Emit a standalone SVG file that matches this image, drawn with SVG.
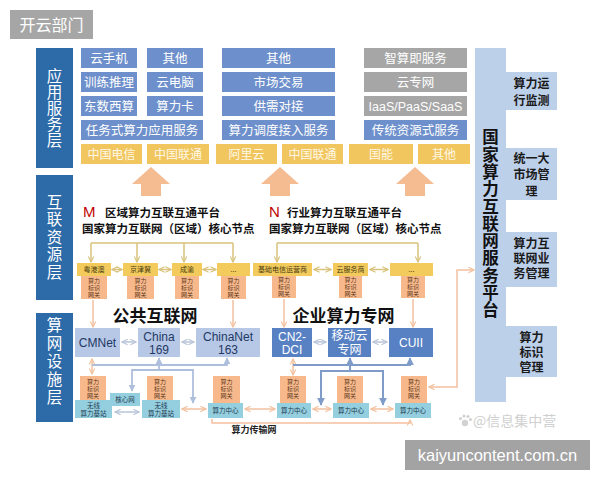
<svg xmlns="http://www.w3.org/2000/svg" width="600" height="480" viewBox="0 0 600 480">
<defs>
<style>
.cjk{font-family:"Noto Sans CJK SC","Noto Sans",sans-serif}
.lat{font-family:"Liberation Sans",Arial,sans-serif}
.lbl{fill:#2d6aa8}
.lt{fill:#fff;font-size:15.5px;text-anchor:middle;writing-mode:vertical-rl}
.ab{fill:#6d8fcb}
.gb{fill:#a6a6a6}
.yb{fill:#f1c65e}
.at{fill:#fff;font-size:12.5px;text-anchor:middle}
.yt{fill:#fff8e6;font-size:12px;text-anchor:middle}
.hd{fill:#f2cb5c}
.ht{fill:#4a3a10;font-size:7px;text-anchor:middle}
.gw{fill:#f7b98c}
.gt{fill:#5a3518;font-size:6px;text-anchor:middle}
.nb{fill:#b6c8e6}
.nt{fill:#1f3864;font-size:12px;text-anchor:middle}
.eb{fill:#5781c3}
.et{fill:#fff;font-size:12px;text-anchor:middle}
.cb{fill:#94cfdf}
.ct{fill:#1f3a50;font-size:6.5px;text-anchor:middle}
.rp{fill:#bdd0ea}
.rt{fill:#1a1a1a;font-size:12px;font-weight:700;text-anchor:middle}
.big{fill:#f5bb91}
.tan{fill:none;stroke:#d8c27c;stroke-width:1.5}
.pch{fill:none;stroke:#f3c09e;stroke-width:1.5}
.gry{fill:none;stroke:#b9c5d8;stroke-width:1.5}
.lbl2{fill:none;stroke:#aebfdc;stroke-width:1.8}
.stl{fill:none;stroke:#7f9cc9;stroke-width:2}
.ttl{fill:#111;font-size:11.5px;font-weight:700}
</style>
<marker id="mT" viewBox="0 0 10 10" refX="9" refY="5" markerUnits="userSpaceOnUse" markerWidth="7" markerHeight="7" orient="auto-start-reverse"><path d="M1 1L9 5L1 9" fill="none" stroke="#d8c27c" stroke-width="1.6"/></marker>
<marker id="mP" viewBox="0 0 10 10" refX="9" refY="5" markerUnits="userSpaceOnUse" markerWidth="7" markerHeight="7" orient="auto-start-reverse"><path d="M1 1L9 5L1 9" fill="none" stroke="#f3c09e" stroke-width="1.6"/></marker>
<marker id="mG" viewBox="0 0 10 10" refX="9" refY="5" markerUnits="userSpaceOnUse" markerWidth="7" markerHeight="7" orient="auto-start-reverse"><path d="M1 1L9 5L1 9" fill="none" stroke="#b9c5d8" stroke-width="1.6"/></marker>
<marker id="mL" viewBox="0 0 10 10" refX="9" refY="5" markerUnits="userSpaceOnUse" markerWidth="7" markerHeight="7" orient="auto-start-reverse"><path d="M0 0L10 5L0 10z" fill="#aebfdc"/></marker>
<marker id="mS" viewBox="0 0 10 10" refX="9" refY="5" markerUnits="userSpaceOnUse" markerWidth="8" markerHeight="8" orient="auto-start-reverse"><path d="M0 0L10 5L0 10z" fill="#7f9cc9"/></marker>
</defs>
<rect width="600" height="480" fill="#fff"/>

<g id="tag">
<rect x="10" y="10" width="83" height="29" fill="#a6a6a6"/>
<text x="51.5" y="30.5" class="cjk" font-size="16" fill="#fff" text-anchor="middle">开云部门</text>
</g>

<g id="layer-labels" class="cjk">
<rect class="lbl" x="36" y="48" width="37" height="120"/>
<text class="lt" x="54.5" y="108.5" letter-spacing="0.5">应用服务层</text>
<rect class="lbl" x="36" y="175" width="37" height="125"/>
<text class="lt" x="54.5" y="238" letter-spacing="2">互联资源层</text>
<rect class="lbl" x="36" y="313" width="37" height="109"/>
<text class="lt" x="54.5" y="362" letter-spacing="2.5">算网设施层</text>
</g>

<g id="app-layer" class="cjk">
<rect class="ab" x="81" y="48" width="56" height="20"/><text class="at" x="109" y="62.5">云手机</text>
<rect class="ab" x="147" y="48" width="56" height="20"/><text class="at" x="175" y="62.5">其他</text>
<rect class="ab" x="81" y="72" width="56" height="20"/><text class="at" x="109" y="86.5">训练推理</text>
<rect class="ab" x="147" y="72" width="56" height="20"/><text class="at" x="175" y="86.5">云电脑</text>
<rect class="ab" x="81" y="96" width="56" height="20"/><text class="at" x="109" y="110.5">东数西算</text>
<rect class="ab" x="147" y="96" width="56" height="20"/><text class="at" x="175" y="110.5">算力卡</text>
<rect class="ab" x="81" y="120" width="122" height="20"/><text class="at" x="142" y="134.5">任务式算力应用服务</text>
<rect class="yb" x="81" y="144" width="61" height="20"/><text class="yt" x="111.5" y="158.5">中国电信</text>
<rect class="yb" x="147" y="144" width="62" height="20"/><text class="yt" x="178" y="158.5">中国联通</text>

<rect class="ab" x="222" y="48" width="113" height="20"/><text class="at" x="278.5" y="62.5">其他</text>
<rect class="ab" x="222" y="72" width="113" height="20"/><text class="at" x="278.5" y="86.5">市场交易</text>
<rect class="ab" x="222" y="96" width="113" height="20"/><text class="at" x="278.5" y="110.5">供需对接</text>
<rect class="ab" x="222" y="120" width="113" height="20"/><text class="at" x="278.5" y="134.5">算力调度接入服务</text>
<rect class="yb" x="216" y="144" width="61" height="20"/><text class="yt" x="246.5" y="158.5">阿里云</text>
<rect class="yb" x="282" y="144" width="61" height="20"/><text class="yt" x="312.5" y="158.5">中国联通</text>

<rect class="gb" x="364" y="48" width="103" height="20"/><text class="at" x="415.5" y="62.5">智算即服务</text>
<rect class="gb" x="364" y="72" width="103" height="20"/><text class="at" x="415.5" y="86.5">云专网</text>
<rect class="gb" x="364" y="96" width="103" height="20"/><text class="at lat" x="415.5" y="110.5" font-size="13">IaaS/PaaS/SaaS</text>
<rect class="ab" x="364" y="120" width="103" height="20"/><text class="at" x="415.5" y="134.5">传统资源式服务</text>
<rect class="yb" x="349" y="144" width="64" height="20"/><text class="yt" x="381" y="158.5">国能</text>
<rect class="yb" x="418" y="144" width="52" height="20"/><text class="yt" x="444" y="158.5">其他</text>
</g>

<g id="up-arrows">
<polygon class="big" points="151,167 170,184 161,184 161,196 141,196 141,184 132,184"/>
<polygon class="big" points="280,167 299,184 290,184 290,196 270,196 270,184 261,184"/>
<polygon class="big" points="415,167 434,184 425,184 425,196 405,196 405,184 396,184"/>
</g>

<g id="platform-titles" class="cjk">
<text x="83" y="217" class="lat" font-size="15" fill="#c00000">M</text>
<text x="105" y="217" class="ttl">区域算力互联互通平台</text>
<text x="82" y="233" class="ttl">国家算力互联网（区域）核心节点</text>
<text x="269" y="217" class="lat" font-size="15" fill="#c00000">N</text>
<text x="287" y="217" class="ttl">行业算力互联互通平台</text>
<text x="269" y="233" class="ttl">国家算力互联网（区域）核心节点</text>
</g>

<g id="connectors">
<path class="tan" d="M91 243H233"/>
<path class="tan" d="M91 243V262" marker-end="url(#mT)"/>
<path class="tan" d="M137 243V262" marker-end="url(#mT)"/>
<path class="tan" d="M184 243V262" marker-end="url(#mT)"/>
<path class="tan" d="M233 243V262" marker-end="url(#mT)"/>
<path class="tan" d="M277 243H418"/>
<path class="tan" d="M277 243V262" marker-end="url(#mT)"/>
<path class="tan" d="M418 243V262" marker-end="url(#mT)"/>
<path class="tan" d="M112 269.5H122" marker-start="url(#mT)" marker-end="url(#mT)"/>
<path class="tan" d="M159 269.5H171" marker-start="url(#mT)" marker-end="url(#mT)"/>
<path class="tan" d="M203 269.5H216" marker-start="url(#mT)" marker-end="url(#mT)"/>
<path class="tan" d="M314 269.5H331" marker-start="url(#mT)" marker-end="url(#mT)"/>
<path class="tan" d="M370 269.5H388" marker-start="url(#mT)" marker-end="url(#mT)"/>
<path class="pch" d="M93 300V327" marker-end="url(#mP)"/>
<path class="pch" d="M233 300V327" marker-end="url(#mP)"/>
<path class="pch" d="M284 299V327" marker-end="url(#mP)"/>
<path class="pch" d="M413 299V327" marker-end="url(#mP)"/>
<path class="pch" d="M429 387H457V270H474" marker-start="url(#mP)" marker-end="url(#mP)"/>
<path class="gry" d="M122 342H136" marker-start="url(#mG)" marker-end="url(#mG)"/>
<path class="gry" d="M182 342H194" marker-start="url(#mG)" marker-end="url(#mG)"/>
<path class="gry" d="M314 342H326" marker-start="url(#mG)" marker-end="url(#mG)"/>
<path class="gry" d="M373 342H387" marker-start="url(#mG)" marker-end="url(#mG)"/>
<path class="pch" d="M92 359V374" marker-start="url(#mP)" marker-end="url(#mP)"/>
<path class="pch" d="M293 359V375" marker-start="url(#mP)" marker-end="url(#mP)"/>
<path class="lbl2" d="M92 365H227V358" marker-end="url(#mL)"/>
<path class="lbl2" d="M159 370V358" marker-end="url(#mL)"/>
<path class="lbl2" d="M132 391V370H193V403" marker-start="url(#mL)" marker-end="url(#mL)"/>
<path class="stl" d="M293 365H410V358" marker-end="url(#mS)"/>
<path class="stl" d="M350 371V358" marker-end="url(#mS)"/>
<path class="stl" d="M321 405V371H383V405" marker-start="url(#mS)" marker-end="url(#mS)"/>
<path class="gry" d="M115 412H139" marker-start="url(#mG)" marker-end="url(#mG)"/>
<path class="pch" d="M182 409H206" marker-start="url(#mP)" marker-end="url(#mP)"/>
<path class="pch" d="M245 409H275" marker-start="url(#mP)" marker-end="url(#mP)"/>
<path class="pch" d="M313 409H331" marker-start="url(#mP)" marker-end="url(#mP)"/>
<path class="pch" d="M371 409H393" marker-start="url(#mP)" marker-end="url(#mP)"/>
<path class="pch" d="M212 419V423H410V420" marker-end="url(#mP)"/>
</g>

<g id="regional-nodes" class="cjk">
<g id="n-yga"><rect class="gw" x="81" y="276" width="26" height="23"/><rect class="hd" x="77" y="263" width="34" height="13"/><text class="ht" x="94" y="272">粤港澳</text><text class="gt" x="94" y="283">算力</text><text class="gt" x="94" y="290">标识</text><text class="gt" x="94" y="296.5">网关</text></g>
<g id="n-jjj"><rect class="gw" x="127" y="276" width="27" height="23"/><rect class="hd" x="123" y="263" width="35" height="13"/><text class="ht" x="140.5" y="272">京津冀</text><text class="gt" x="140.5" y="283">算力</text><text class="gt" x="140.5" y="290">标识</text><text class="gt" x="140.5" y="296.5">网关</text></g>
<g id="n-cy"><rect class="gw" x="175" y="276" width="24" height="23"/><rect class="hd" x="172" y="263" width="30" height="13"/><text class="ht" x="187" y="272">成渝</text><text class="gt" x="187" y="283">算力</text><text class="gt" x="187" y="290">标识</text><text class="gt" x="187" y="296.5">网关</text></g>
<g id="n-etc1"><rect class="gw" x="221" y="276" width="25" height="23"/><rect class="hd" x="217" y="263" width="33" height="13"/><text class="ht" x="233.5" y="272">...</text><text class="gt" x="233.5" y="283">算力</text><text class="gt" x="233.5" y="290">标识</text><text class="gt" x="233.5" y="296.5">网关</text></g>
<g id="n-jcdx"><rect class="gw" x="272" y="275" width="24" height="23"/><rect class="hd" x="253" y="263" width="59" height="13"/><text class="ht" x="282.5" y="272">基础电信运营商</text><text class="gt" x="284" y="282">算力</text><text class="gt" x="284" y="289">标识</text><text class="gt" x="284" y="295.5">网关</text></g>
<g id="n-yfws"><rect class="gw" x="339" y="275" width="23" height="23"/><rect class="hd" x="333" y="263" width="35" height="13"/><text class="ht" x="350.5" y="272">云服务商</text><text class="gt" x="350.5" y="282">算力</text><text class="gt" x="350.5" y="289">标识</text><text class="gt" x="350.5" y="295.5">网关</text></g>
<g id="n-etc2"><rect class="gw" x="401" y="275" width="24" height="23"/><rect class="hd" x="390" y="263" width="43" height="13"/><text class="ht" x="411.5" y="272">...</text><text class="gt" x="413" y="282">算力</text><text class="gt" x="413" y="289">标识</text><text class="gt" x="413" y="295.5">网关</text></g>
</g>

<g id="net-titles" class="cjk">
<text x="155" y="322" font-size="17" font-weight="700" fill="#111" text-anchor="middle">公共互联网</text>
<text x="343.5" y="322" font-size="17" font-weight="700" fill="#111" text-anchor="middle">企业算力专网</text>
</g>

<g id="networks">
<g id="cmnet"><rect class="nb" x="75" y="328" width="45" height="29"/><text class="nt lat" x="97.5" y="347">CMNet</text></g>
<g id="china169"><rect class="nb" x="138" y="328" width="42" height="29"/><text class="nt lat" x="159" y="340.5">China</text><text class="nt lat" x="159" y="354">169</text></g>
<g id="chinanet163"><rect class="nb" x="196" y="328" width="64" height="29"/><text class="nt lat" x="228" y="340.5">ChinaNet</text><text class="nt lat" x="228" y="354">163</text></g>
<g id="cn2dci"><rect class="eb" x="272" y="328" width="40" height="29"/><text class="et lat" x="292" y="340.5">CN2-</text><text class="et lat" x="292" y="354">DCI</text></g>
<g id="ydy"><rect class="eb" x="328" y="328" width="43" height="29"/><text class="et cjk" x="349.5" y="340" font-size="11">移动云</text><text class="et cjk" x="349.5" y="353.5" font-size="11">专网</text></g>
<g id="cuii"><rect class="eb" x="389" y="328" width="44" height="29"/><text class="et lat" x="411" y="347">CUII</text></g>
</g>

<g id="infra" class="cjk">
<g id="gw1"><rect class="gw" x="80" y="376" width="26" height="25"/><text class="gt" x="93" y="384">算力</text><text class="gt" x="93" y="391">标识</text><text class="gt" x="93" y="398">网关</text></g>
<g id="gw2"><rect class="gw" x="147" y="376" width="26" height="25"/><text class="gt" x="160" y="384">算力</text><text class="gt" x="160" y="391">标识</text><text class="gt" x="160" y="398">网关</text></g>
<g id="gw3"><rect class="gw" x="213" y="376" width="27" height="27"/><text class="gt" x="226.5" y="384">算力</text><text class="gt" x="226.5" y="391">标识</text><text class="gt" x="226.5" y="398">网关</text></g>
<g id="gw4"><rect class="gw" x="280" y="376" width="26" height="27"/><text class="gt" x="293" y="384">算力</text><text class="gt" x="293" y="391">标识</text><text class="gt" x="293" y="398">网关</text></g>
<g id="gw5"><rect class="gw" x="337" y="376" width="26" height="27"/><text class="gt" x="350" y="384">算力</text><text class="gt" x="350" y="391">标识</text><text class="gt" x="350" y="398">网关</text></g>
<g id="gw6"><rect class="gw" x="401" y="376" width="26" height="27"/><text class="gt" x="414" y="384">算力</text><text class="gt" x="414" y="391">标识</text><text class="gt" x="414" y="398">网关</text></g>
<g id="wx1"><rect class="cb" x="75" y="400" width="37" height="18"/><text class="ct" x="93.5" y="407.5">无线</text><text class="ct" x="93.5" y="415.5">算力基站</text></g>
<g id="hxw"><rect class="cb" x="110" y="393" width="30" height="13"/><text class="ct" x="125" y="402">核心网</text></g>
<g id="wx2"><rect class="cb" x="142" y="400" width="38" height="18"/><text class="ct" x="161" y="407.5">无线</text><text class="ct" x="161" y="415.5">算力基站</text></g>
<g id="dc1"><rect class="cb" x="208" y="403" width="35" height="15"/><text class="ct" x="225.5" y="413" font-size="7">算力中心</text></g>
<g id="dc2"><rect class="cb" x="277" y="403" width="34" height="15"/><text class="ct" x="294" y="413" font-size="7">算力中心</text></g>
<g id="dc3"><rect class="cb" x="333" y="403" width="36" height="15"/><text class="ct" x="351" y="413" font-size="7">算力中心</text></g>
<g id="dc4"><rect class="cb" x="395" y="403" width="36" height="15"/><text class="ct" x="413" y="413" font-size="7">算力中心</text></g>
<text x="254" y="433" font-size="9" font-weight="700" fill="#222" text-anchor="middle">算力传输网</text>
</g>

<g id="service-platform" class="cjk">
<rect class="rp" x="475" y="48" width="31" height="354"/>
<rect class="rp" x="505" y="72" width="52" height="38"/>
<rect class="rp" x="505" y="148" width="52" height="52"/>
<rect class="rp" x="505" y="232" width="52" height="55"/>
<rect class="rp" x="505" y="326" width="52" height="51"/>
<text x="490.5" y="224" font-size="16.5" font-weight="700" fill="#111" text-anchor="middle" writing-mode="vertical-rl" letter-spacing="0.8">国家算力互联网服务平台</text>
<text class="rt" x="531.5" y="87.5"><tspan x="531.5">算力运</tspan><tspan x="531.5" dy="17">行监测</tspan></text>
<text class="rt" x="531.5" y="162.5"><tspan x="531.5">统一大</tspan><tspan x="531.5" dy="16">市场管</tspan><tspan x="531.5" dy="17">理</tspan></text>
<text class="rt" x="531.5" y="247.5"><tspan x="531.5">算力互</tspan><tspan x="531.5" dy="15">联网业</tspan><tspan x="531.5" dy="15">务管理</tspan></text>
<text class="rt" x="531.5" y="341.5"><tspan x="531.5">算力</tspan><tspan x="531.5" dy="15">标识</tspan><tspan x="531.5" dy="15">管理</tspan></text>
</g>

<g id="watermarks">
<g fill="#d2d2d2"><circle cx="465" cy="423" r="3.2"/><circle cx="460.5" cy="418.5" r="1.6"/><circle cx="464" cy="416" r="1.6"/><circle cx="468" cy="416.5" r="1.6"/><circle cx="470.5" cy="419.5" r="1.6"/></g>
<text x="473" y="426" class="cjk" font-size="14" fill="#d0d0d0">@信息集中营</text>
<rect x="405" y="440" width="185" height="30" fill="#a3a3a3"/>
<text x="497.5" y="461" class="lat" font-size="16.5" fill="#fff" text-anchor="middle">kaiyuncontent.com.cn</text>
</g>
</svg>
